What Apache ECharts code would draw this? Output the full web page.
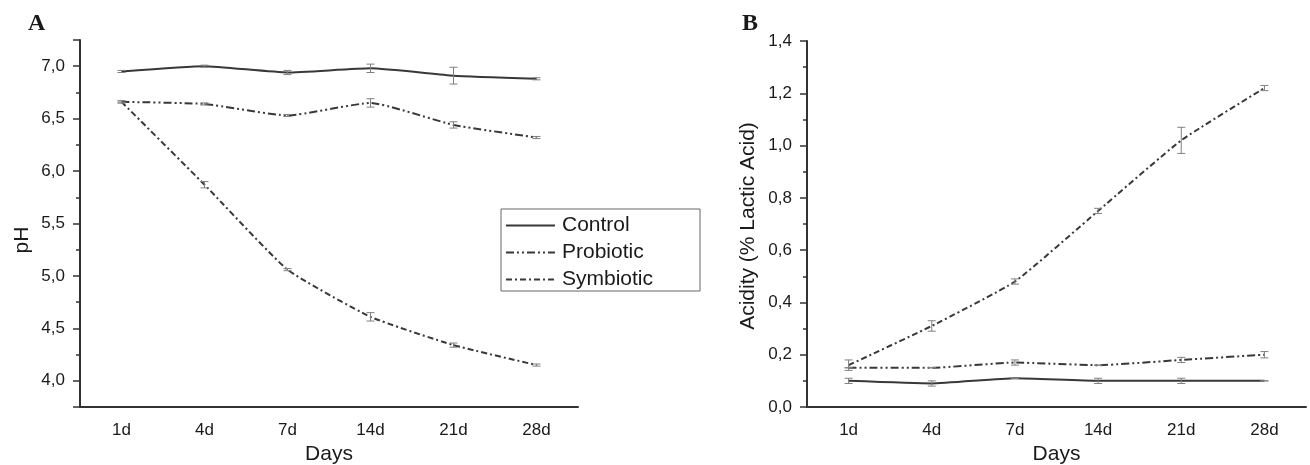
<!DOCTYPE html>
<html>
<head>
<meta charset="utf-8">
<script src="https://cdn.jsdelivr.net/npm/echarts@6/dist/echarts.min.js"></script>
<style>
    html, body { margin: 0; padding: 0; background: #fff; }
    #main { width: 1310px; height: 465px; }
</style>
</head>
<body>
<div id="main"></div>
<script>
// categories (storage days)
var days = ['1d', '4d', '7d', '14d', '21d', '28d'];

// panel A - pH
var phControl = [6.95, 7.00, 6.94, 6.98, 6.91, 6.88];
var phControlErr = [0.01, 0.01, 0.02, 0.04, 0.08, 0.01];
var phProbiotic = [6.66, 6.64, 6.53, 6.65, 6.44, 6.32];
var phProbioticErr = [0.01, 0.01, 0.01, 0.04, 0.03, 0.01];
var phSymbiotic = [6.66, 5.87, 5.06, 4.61, 4.34, 4.15];
var phSymbioticErr = [0.01, 0.03, 0.01, 0.04, 0.02, 0.01];

// panel B - acidity (% lactic acid)
var acControl = [0.10, 0.09, 0.11, 0.10, 0.10, 0.10];
var acControlErr = [0.01, 0.01, 0.00, 0.01, 0.01, 0.00];
var acProbiotic = [0.15, 0.15, 0.17, 0.16, 0.18, 0.20];
var acProbioticErr = [0.00, 0.00, 0.01, 0.00, 0.01, 0.012];
var acSymbiotic = [0.16, 0.31, 0.48, 0.75, 1.02, 1.22];
var acSymbioticErr = [0.02, 0.02, 0.01, 0.01, 0.05, 0.01];

var seriesNames = ['Control', 'Probiotic', 'Symbiotic'];

var FONT = 'Liberation Sans, Arial, sans-serif';
var INK = '#1a1a1a';
var LINE = '#383838';
var ERR = '#808080';

// 线型
var dashTypes = {
    'Control': 'solid',
    'Probiotic': [8, 3, 2, 3, 2, 3],
    'Symbiotic': [6, 3, 2, 3]
};

var myChart = echarts.init(document.getElementById('main'));

function comma(v) {
    return v.toFixed(1).replace('.', ',');
}

function lineSeries(name, idx, values) {
    return {
        name: name,
        type: 'line',
        xAxisIndex: idx * 2,
        yAxisIndex: idx,
        data: values,
        symbol: 'none',
        smooth: 0.15,
        lineStyle: { color: LINE, width: 2, type: dashTypes[name] },
        itemStyle: { color: LINE },
        z: 3
    };
}

function errorSeries(idx, values, errs) {
    var data = [];
    for (var i = 0; i < values.length; i++) {
        data.push([i, values[i] - errs[i], values[i] + errs[i]]);
    }
    return {
        type: 'custom',
        xAxisIndex: idx * 2,
        yAxisIndex: idx,
        data: data,
        encode: { x: 0, y: [1, 2] },
        z: 4,
        silent: true,
        renderItem: function (params, api) {
            var x = api.value(0);
            var lo = api.coord([x, api.value(1)]);
            var hi = api.coord([x, api.value(2)]);
            var w = 4;
            var st = { stroke: ERR, lineWidth: 1 };
            return {
                type: 'group',
                children: [
                    { type: 'line', shape: { x1: lo[0], y1: lo[1], x2: hi[0], y2: hi[1] }, style: st },
                    { type: 'line', shape: { x1: lo[0] - w, y1: lo[1], x2: lo[0] + w, y2: lo[1] }, style: st },
                    { type: 'line', shape: { x1: hi[0] - w, y1: hi[1], x2: hi[0] + w, y2: hi[1] }, style: st }
                ]
            };
        }
    };
}

function xAxes(grid) {
    return [{
        type: 'category',
        gridIndex: grid,
        position: 'bottom',
        data: days,
        boundaryGap: true,
        axisLine: { lineStyle: { color: '#333', width: 2 } },
        axisTick: { alignWithLabel: true, length: 7, lineStyle: { color: '#333', width: 1.5 } },
        axisLabel: { color: INK, fontSize: 17, fontFamily: FONT, margin: 15 },
        name: 'Days',
        nameLocation: 'middle',
        nameGap: 35,
        nameTextStyle: { color: INK, fontSize: 21, fontFamily: FONT },
        splitLine: { show: false }
    }, {
        // 次刻度 (boundaries)
        type: 'category',
        gridIndex: grid,
        position: 'bottom',
        data: days,
        boundaryGap: true,
        axisLine: { show: false },
        axisTick: { length: 4, lineStyle: { color: '#333', width: 1.5 } },
        axisLabel: { show: false },
        splitLine: { show: false }
    }];
}

function yAxis(grid, min, max, split) {
    return {
        type: 'value',
        gridIndex: grid,
        min: min,
        max: max,
        splitNumber: split,
        axisLine: { show: true, lineStyle: { color: '#333', width: 2 } },
        axisTick: { show: true, length: 7, lineStyle: { color: '#333', width: 1.5 } },
        minorTick: { show: true, splitNumber: 2, length: 4, lineStyle: { color: '#333', width: 1.5 } },
        axisLabel: {
            color: INK, fontSize: 17, fontFamily: FONT, margin: 15,
            showMinLabel: grid === 1, showMaxLabel: grid === 1,
            formatter: comma
        },
        splitLine: { show: false }
    };
}

var option = {
    backgroundColor: '#fff',
    animation: false,
    grid: [
        { left: 80, top: 40, width: 498, height: 367, outerBoundsMode: 'none' },
        { left: 807, top: 41, width: 499, height: 366, outerBoundsMode: 'none' }
    ],
    xAxis: xAxes(0).concat(xAxes(1)),
    yAxis: [
        yAxis(0, 3.75, 7.25, 7),
        yAxis(1, 0, 1.4, 7)
    ],
    legend: {
        data: seriesNames,
        orient: 'vertical',
        left: 501,
        top: 209,
        padding: [6, 47, 1, 4],
        itemWidth: 49,
        itemHeight: 14,
        itemGap: 6,
        borderColor: '#666',
        borderWidth: 1,
        itemStyle: { opacity: 0 },
        textStyle: { color: INK, fontSize: 21, fontFamily: FONT, padding: [0, 0, 0, 2] },
        selectedMode: false
    },
    graphic: [
        { type: 'text', left: 28, top: 12, style: { text: 'A', font: 'bold 24px Liberation Serif, Times New Roman, serif', fill: INK } },
        { type: 'text', left: 742, top: 12, style: { text: 'B', font: 'bold 24px Liberation Serif, Times New Roman, serif', fill: INK } },
        {
            type: 'text', x: 22, y: 240, rotation: Math.PI / 2,
            style: { text: 'pH', font: '21px Liberation Sans, Arial, sans-serif', fill: INK, align: 'center', verticalAlign: 'middle' }
        },
        {
            type: 'text', x: 748, y: 226, rotation: Math.PI / 2,
            style: { text: 'Acidity (% Lactic Acid)', font: '21px Liberation Sans, Arial, sans-serif', fill: INK, align: 'center', verticalAlign: 'middle' }
        }
    ],
    series: [
        lineSeries('Control', 0, phControl),
        lineSeries('Probiotic', 0, phProbiotic),
        lineSeries('Symbiotic', 0, phSymbiotic),
        errorSeries(0, phControl, phControlErr),
        errorSeries(0, phProbiotic, phProbioticErr),
        errorSeries(0, phSymbiotic, phSymbioticErr),
        lineSeries('Control', 1, acControl),
        lineSeries('Probiotic', 1, acProbiotic),
        lineSeries('Symbiotic', 1, acSymbiotic),
        errorSeries(1, acControl, acControlErr),
        errorSeries(1, acProbiotic, acProbioticErr),
        errorSeries(1, acSymbiotic, acSymbioticErr)
    ]
};

myChart.setOption(option);
</script>
</body>
</html>
